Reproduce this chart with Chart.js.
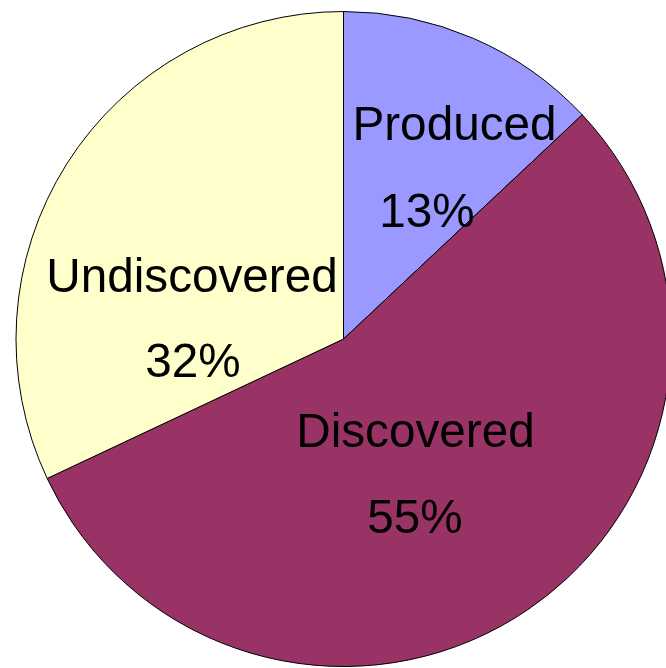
<!DOCTYPE html>
<html>
<head>
<meta charset="utf-8">
<script src="https://cdn.jsdelivr.net/npm/chart.js@4"></script>
<style>
html,body{margin:0;padding:0;background:#fff;overflow:hidden;width:666px;height:668px;}
#wrap{position:absolute;left:0;top:0;width:700px;height:668px;}
</style>
</head>
<body>
<div id="wrap"><canvas id="c" width="700" height="668"></canvas></div>
<script>
const categories = ["Produced", "Discovered", "Undiscovered"];
const shares = [13, 55, 32];
const percentLabels = ["13%", "55%", "32%"];
const sliceColors = ["#9999FF", "#993366", "#FFFFCC"];

// label line offsets (px) relative to the pie centre: [name line, percent line]
const labelOffsets = [
  [[111, -199], [83.5, -112.3]],
  [[72, 107.7], [71.5, 193.7]],
  [[-151.5, -47.3], [-150.5, 38]]
];

const labelPlugin = {
  id: 'sliceLabels',
  afterDatasetsDraw(chart) {
    const ctx = chart.ctx;
    const meta = chart.getDatasetMeta(0);
    ctx.save();
    ctx.font = '47.7px "Liberation Sans", Arial, sans-serif';
    ctx.fillStyle = '#000';
    ctx.textAlign = 'center';
    ctx.textBaseline = 'alphabetic';
    meta.data.forEach((arc, i) => {
      const {x, y} = arc.getProps(['x', 'y'], true);
      const off = labelOffsets[i];
      ctx.fillText(categories[i], x + off[0][0], y + off[0][1]);
      ctx.fillText(percentLabels[i], x + off[1][0], y + off[1][1]);
    });
    ctx.restore();
  }
};

new Chart(document.getElementById('c'), {
  type: 'pie',
  data: {
    labels: categories,
    datasets: [{
      data: shares,
      backgroundColor: sliceColors,
      borderColor: '#000',
      borderWidth: 1
    }]
  },
  options: {
    responsive: false,
    animation: false,
    layout: { padding: { left: 15.5, right: 28.5, top: 11, bottom: 1 } },
    plugins: { legend: { display: false }, tooltip: { enabled: false } }
  },
  plugins: [labelPlugin]
});
</script>
</body>
</html>
